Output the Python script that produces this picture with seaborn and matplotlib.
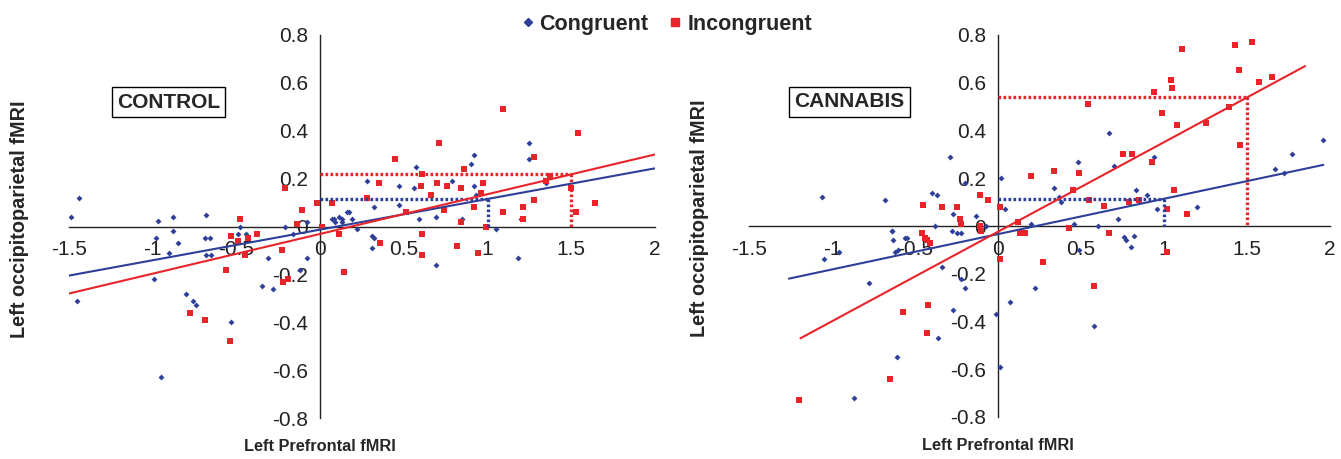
import numpy as np
import pandas as pd
import matplotlib
matplotlib.use("Agg")
import matplotlib.pyplot as plt
import seaborn as sns
from matplotlib.lines import Line2D

# ---- data ----
# CONTROL panel
ctrl_cong_x = [-1.44, -1.49, -0.97, -0.88, -0.68, -0.48, -0.21, -0.88, -0.98, -0.90, -0.85,
               -0.69, -0.66, -0.68, -0.65, -0.99, -0.80, -0.76, -0.74, -0.95, -0.53, -1.45,
               -0.49, -0.44, -0.16, -0.08, -0.31, -0.08, -0.35, -0.28, -0.12, 0.08, 0.11,
               0.07, 0.09, 0.13, 0.13, 0.16, 0.17, 0.19, 0.22, 0.28, 0.32, 0.32, 0.47, 0.47,
               0.56, 0.57, 0.59, 0.69, 0.79, 0.85, 0.90, 0.92, 0.92, 0.93, 1.05, 1.25, 1.25,
               1.35, 1.20, 0.31, 0.31, 0.69, 1.18]
ctrl_cong_y = [0.12, 0.04, 0.025, 0.04, 0.05, 0.0, 0.0, -0.02, -0.05, -0.11, -0.07,
               -0.05, -0.05, -0.12, -0.12, -0.22, -0.28, -0.31, -0.33, -0.63, -0.40, -0.31,
               -0.03, -0.03, -0.03, 0.02, -0.13, -0.13, -0.25, -0.26, -0.18, 0.03, 0.04,
               0.03, 0.02, 0.03, 0.02, 0.06, 0.06, 0.03, -0.01, 0.19, 0.08, -0.05, 0.17, 0.09,
               0.16, 0.25, 0.03, 0.04, 0.19, 0.03, 0.26, 0.30, 0.17, 0.13, -0.01, 0.35, 0.28,
               0.18, 0.03, -0.04, -0.09, -0.16, -0.13]
ctrl_inc_x = [-0.21, -0.11, -0.02, 0.07, -0.14, 0.01, -0.48, -0.38, -0.53, -0.49, -0.45,
              -0.43, -0.56, -0.78, -0.69, -0.54, -0.23, -0.22, -0.19, 0.11, 0.28, 0.35,
              0.45, 0.51, 0.61, 0.60, 0.66, 0.71, 0.70, 0.76, 0.74, 0.61, 0.84, 0.84, 0.86,
              0.92, 0.97, 0.96, 0.99, 1.09, 1.09, 1.21, 1.21, 1.28, 1.28, 1.37, 1.35, 1.54,
              1.50, 1.53, 1.64, 0.14, 0.36, 0.61, 0.82, 0.94]
ctrl_inc_y = [0.16, 0.07, 0.10, 0.10, 0.01, 0.00, 0.03, -0.03, -0.04, -0.06, -0.12,
              -0.05, -0.18, -0.36, -0.39, -0.48, -0.10, -0.23, -0.22, -0.03, 0.12, 0.18,
              0.28, 0.06, 0.22, 0.17, 0.13, 0.35, 0.18, 0.17, 0.07, -0.03, 0.16, 0.02, 0.24,
              0.08, 0.18, 0.14, 0.00, 0.49, 0.06, 0.08, 0.03, 0.29, 0.11, 0.21, 0.19, 0.39,
              0.16, 0.06, 0.10, -0.19, -0.07, -0.12, -0.08, -0.11]

# CANNABIS panel
cann_cong_x = [-1.06, -0.68, -0.29, -0.40, -0.37, -0.20, -0.27, -0.13, 0.02, 0.04, -0.64,
               -0.55, -0.38, -0.28, -0.25, -0.22, -0.07, -1.05, -0.96, -0.64, -0.63, -0.62,
               -0.60, -0.56, -0.78, -0.34, -0.22, -0.20, -0.27, -0.36, -0.61, -0.87, -0.01,
               0.01, 0.20, 0.34, 0.37, 0.38, 0.46, 0.48, 0.60, 0.67, 0.70, 0.72, 0.76, 0.82,
               0.83, 0.90, 0.94, 0.96, 1.20, 1.67, 1.72, 1.77, 1.96, 0.77, 0.80, 0.49, 0.22,
               0.07, 0.58]
cann_cong_y = [0.12, 0.11, 0.29, 0.14, 0.13, 0.18, 0.05, 0.04, 0.20, 0.07, -0.02,
               -0.05, 0.0, -0.02, -0.03, -0.03, 0.0, -0.14, -0.11, -0.02, -0.06, -0.11,
               -0.10, -0.05, -0.24, -0.17, -0.22, -0.26, -0.35, -0.47, -0.55, -0.72, -0.37,
               -0.59, 0.01, 0.16, 0.12, 0.10, 0.01, 0.27, 0.0, 0.39, 0.25, 0.03, -0.045, -0.04,
               0.15, 0.13, 0.29, 0.07, 0.08, 0.24, 0.22, 0.30, 0.36, -0.06, -0.09, -0.10, -0.26,
               -0.32, -0.42]
cann_inc_x = [-0.45, -0.34, -0.25, -0.11, -0.06, 0.01, -0.23, -0.22, -0.11, -0.10, -0.46,
              -0.44, -0.43, -0.41, 0.01, -0.42, -0.57, -0.43, -0.65, -1.20, 0.12, 0.13, 0.16,
              0.20, 0.34, 0.49, 0.45, 0.43, 0.54, 0.55, 0.64, 0.67, 0.75, 0.81, 0.79, 0.85,
              0.93, 0.94, 0.99, 1.04, 1.05, 1.02, 1.06, 1.08, 1.11, 1.14, 1.25, 1.39, 1.43,
              1.45, 1.46, 1.53, 1.57, 1.65, 0.27, 0.58, 1.02]
cann_inc_y = [0.09, 0.08, 0.08, 0.13, 0.11, 0.08, 0.03, 0.01, 0.0, -0.02, -0.03,
              -0.05, -0.06, -0.07, -0.14, -0.33, -0.36, -0.45, -0.64, -0.73, 0.015, -0.03, -0.03,
              0.21, 0.23, 0.22, 0.15, -0.01, 0.51, 0.11, 0.085, -0.03, 0.30, 0.30, 0.10, 0.11,
              0.27, 0.56, 0.475, 0.61, 0.58, 0.07, 0.15, 0.425, 0.74, 0.05, 0.43, 0.50, 0.76,
              0.655, 0.34, 0.77, 0.605, 0.625, -0.15, -0.25, -0.11]

# fitted trend lines: intercept, slope, x start, x end
ctrl_fit = {"Congruent": (-0.013, 0.128, -1.5, 2.0), "Incongruent": (-0.031, 0.166, -1.5, 2.0)}
cann_fit = {"Congruent": (-0.034, 0.148, -1.26, 1.96), "Incongruent": (-0.024, 0.375, -1.19, 1.85)}
guide_x = {"Congruent": 1.0, "Incongruent": 1.5}

x_ticks = [-1.5, -1, -0.5, 0, 0.5, 1, 1.5, 2]
y_ticks = [-0.8, -0.6, -0.4, -0.2, 0, 0.2, 0.4, 0.6, 0.8]

BLUE = "#2E3F9A"
RED = "#E8242B"
colors = {"Congruent": BLUE, "Incongruent": RED}
markers = {"Congruent": "D", "Incongruent": "s"}
msize = {"Congruent": 9, "Incongruent": 24}

sns.set_style("white")
plt.rcParams['font.family'] = ['Liberation Sans', 'DejaVu Sans']


def make_df(cx, cy, ix, iy):
    a = pd.DataFrame({"x": cx, "y": cy, "cond": "Congruent"})
    b = pd.DataFrame({"x": ix, "y": iy, "cond": "Incongruent"})
    return pd.concat([a, b], ignore_index=True)


def panel(ax, df, fits, label, label_x, label_y):
    for cond in ["Congruent", "Incongruent"]:
        sub = df[df["cond"] == cond]
        sns.scatterplot(data=sub, x="x", y="y", ax=ax, color=colors[cond],
                        marker=markers[cond], s=msize[cond], linewidth=0, zorder=3)
    for cond in ["Congruent", "Incongruent"]:
        b0, b1, x0, x1 = fits[cond]
        xs = np.array([x0, x1])
        ax.plot(xs, b0 + b1 * xs, color=colors[cond], lw=1.5, zorder=4)
        # dotted guide from the y axis to the line, then down to the x axis
        gx = guide_x[cond]
        gy = b0 + b1 * gx
        ax.plot([0, gx], [gy, gy], color=colors[cond], lw=2.4,
                linestyle=(0, (0.8, 0.7)), zorder=4)
        ax.plot([gx, gx], [gy, 0], color=colors[cond], lw=2.4,
                linestyle=(0, (0.8, 0.7)), zorder=4)

    ax.set_xlim(-1.5, 2)
    ax.set_ylim(-0.8, 0.8)
    ax.spines['left'].set_position(('data', 0))
    ax.spines['bottom'].set_position(('data', 0))
    ax.spines['top'].set_visible(False)
    ax.spines['right'].set_visible(False)
    for s in ['left', 'bottom']:
        ax.spines[s].set_color("#222222")
        ax.spines[s].set_linewidth(1.0)
    ax.set_xticks(x_ticks)
    ax.set_yticks(y_ticks)
    ax.set_xticklabels([f"{v:g}" for v in x_ticks])
    ax.set_yticklabels([f"{v:g}" for v in y_ticks])
    ax.tick_params(direction="out", length=4, width=1, colors="#222222",
                   labelsize=15, labelcolor="#222222")
    ax.tick_params(axis="x", pad=6)
    ax.tick_params(axis="y", pad=4.5)
    ax.set_xlabel("Left Prefrontal fMRI", fontsize=11.8, fontweight="bold")
    ax.set_ylabel("Left occipitoparietal fMRI", fontsize=14.3, fontweight="bold")
    ax.xaxis.set_label_coords(1.5 / 3.5, -0.055)
    ax.yaxis.set_label_coords(-0.068, 0.52)
    ax.text(label_x, label_y, label, ha="center", va="center", fontsize=15,
            fontweight="bold", bbox=dict(boxstyle="square,pad=0.25", fc="white",
                                         ec="black", lw=1))


fig = plt.figure(figsize=(13.41, 4.59), dpi=100)
ax1 = fig.add_axes([69 / 1341, 1 - 418 / 459, 586 / 1341, 383 / 459])
ax2 = fig.add_axes([749 / 1341, 1 - 417 / 459, 581 / 1341, 382 / 459])

panel(ax1, make_df(ctrl_cong_x, ctrl_cong_y, ctrl_inc_x, ctrl_inc_y), ctrl_fit,
      "CONTROL", -0.906, 0.52)
panel(ax2, make_df(cann_cong_x, cann_cong_y, cann_inc_x, cann_inc_y), cann_fit,
      "CANNABIS", -0.895, 0.52)

handles = [Line2D([], [], marker="D", color=BLUE, lw=0, markersize=4.5),
           Line2D([], [], marker="s", color=RED, lw=0, markersize=5.5)]
fig.legend(handles, ["Congruent", "Incongruent"], loc="upper center",
           bbox_to_anchor=(0.4975, 1.012), ncol=2, frameon=False, handlelength=0.5,
           handletextpad=0.3, columnspacing=1.0,
           prop={"weight": "bold", "size": 15.5})

fig.savefig("out.png", dpi=100)
plt.close(fig)
